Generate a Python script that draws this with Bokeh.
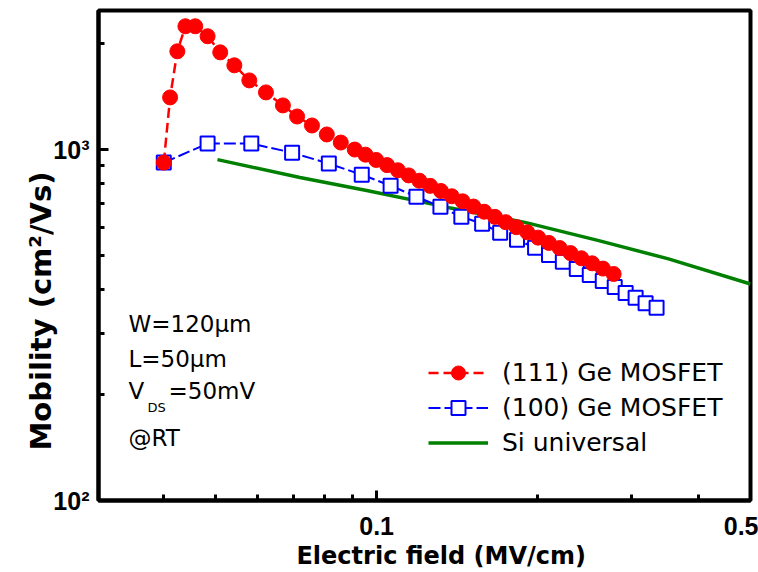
from bokeh.plotting import figure
from bokeh.models import FixedTicker, Label, Legend, LegendItem, Range1d
from bokeh.embed import file_html
from bokeh.resources import INLINE

# ---------------- data ----------------
ge111_field = [0.0400, 0.0411, 0.0424, 0.0439, 0.0458, 0.0483, 0.0510, 0.0542, 0.0578, 0.0621,
               0.0668, 0.0710, 0.0757, 0.0807, 0.0857, 0.0910, 0.0953, 0.0998, 0.1046, 0.1096,
               0.1148, 0.1202, 0.1259, 0.1319, 0.1382, 0.1448, 0.1517, 0.1589, 0.1664, 0.1743,
               0.1826, 0.1913, 0.2004, 0.2099, 0.2199, 0.2304, 0.2414, 0.2529, 0.2649, 0.2774]
ge111_mob = [918, 1408, 1905, 2245, 2245, 2103, 1892, 1738, 1574, 1455,
             1336, 1242, 1171, 1104, 1047, 1000, 967, 934, 903, 873,
             844, 815, 788, 762, 736, 712, 688, 665, 643, 621,
             601, 581, 561, 542, 524, 507, 490, 474, 458, 442]

ge100_field = [0.0400, 0.0483, 0.0583, 0.0695, 0.0814, 0.0938, 0.1062, 0.1187, 0.1316, 0.1440,
               0.1575, 0.1702, 0.1830, 0.1978, 0.2100, 0.2229, 0.2367, 0.2503, 0.2647, 0.2787,
               0.2921, 0.3049, 0.3183, 0.3337]
ge100_mob = [918, 1040, 1040, 980, 912, 848, 789, 734, 687, 643,
             615, 579, 553, 525, 501, 479, 457, 439, 422, 406,
             390, 378, 365, 354]

si_field = [0.0504, 0.0719, 0.0958, 0.1367, 0.1902, 0.2602, 0.3513, 0.5]
si_mob = [936, 832, 764, 683, 619, 550, 488, 414]

series_names = ["(111) Ge MOSFET", "(100) Ge MOSFET", "Si universal"]

NB = "\u00a0"
x_major = [0.1, 0.5]
x_minor = [0.04, 0.05, 0.06, 0.07, 0.08, 0.09, 0.2, 0.3, 0.4]
x_tick_labels = {0.1: "0.1", 0.5: "0.5"}
y_major = [100, 1000]
y_minor = [200, 300, 400, 500, 600, 700, 800, 900, 2000]
y_tick_labels = {100: "10²", 1000: "10³"}

x_lo, x_hi = 0.0302, 0.5
y_lo, y_hi = 100, 2490

x_title = NB * 4 + "Electric field (MV/cm)"
y_title = "Mobility (cm²/Vs)" + NB * 11

# ---------------- figure ----------------
p = figure(width=758, height=572, x_axis_type="log", y_axis_type="log",
           x_range=Range1d(x_lo, x_hi), y_range=Range1d(y_lo, y_hi),
           output_backend="svg", toolbar_location=None,
           min_border_left=98, min_border_right=8, min_border_top=10, min_border_bottom=72)
p.xgrid.visible = False
p.ygrid.visible = False
p.background_fill_color = "white"
p.border_fill_color = "white"
p.outline_line_color = "black"
p.outline_line_width = 4
p.outline_line_alpha = 1

p.xaxis.ticker = FixedTicker(ticks=x_major, minor_ticks=x_minor)
p.xaxis.major_label_overrides = x_tick_labels
p.yaxis.ticker = FixedTicker(ticks=y_major, minor_ticks=y_minor)
p.yaxis.major_label_overrides = y_tick_labels
for ax in (p.xaxis[0], p.yaxis[0]):
    ax.axis_line_width = 4
    ax.axis_line_color = "black"
    ax.major_tick_in = 10
    ax.major_tick_out = 0
    ax.minor_tick_in = 6
    ax.minor_tick_out = 0
    ax.major_tick_line_width = 3
    ax.minor_tick_line_width = 3
    ax.major_tick_line_color = "black"
    ax.minor_tick_line_color = "black"
    ax.major_label_text_font = "Liberation Sans"
    ax.major_label_text_font_style = "bold"
    ax.major_label_text_font_size = "25px"
    ax.major_label_text_color = "black"
    ax.axis_label_text_font = "DejaVu Sans"
    ax.axis_label_text_font_style = "bold"
    ax.axis_label_text_color = "black"
p.xaxis.major_label_standoff = 16
p.yaxis.major_label_standoff = 9
p.xaxis.axis_label = x_title
p.xaxis.axis_label_text_font_size = "24px"
p.xaxis.axis_label_standoff = 4
p.yaxis.axis_label = y_title
p.yaxis.axis_label_text_font_size = "29px"
p.yaxis.axis_label_standoff = -8

# ---------------- glyphs ----------------
r_si = p.line(si_field, si_mob, line_color="#008000", line_width=3.5)

r100l = p.line(ge100_field, ge100_mob, line_color="#0000ff", line_width=2, line_dash="12 4")
r100s = p.scatter(ge100_field, ge100_mob, marker="square", size=14,
                  line_color="#0000ff", fill_color="white", line_width=2)

r111l = p.line(ge111_field, ge111_mob, line_color="#ff0000", line_width=2.5, line_dash="10 5")
r111s = p.scatter(ge111_field, ge111_mob, marker="circle", size=15,
                  line_color="#ff0000", fill_color="#ff0000")

legend = Legend(items=[LegendItem(label=series_names[0], renderers=[r111l, r111s]),
                       LegendItem(label=series_names[1], renderers=[r100l, r100s]),
                       LegendItem(label=series_names[2], renderers=[r_si])],
                location=(330, 40), orientation="vertical", padding=0, margin=0, spacing=0,
                glyph_width=60, glyph_height=35, label_height=35, label_standoff=14,
                label_text_font="DejaVu Sans", label_text_font_size="25px",
                label_text_color="black",
                border_line_alpha=0, background_fill_alpha=0)
p.add_layout(legend)

# ---------------- annotation texts (inside the frame) ----------------
def txt(x, y, t, size="23px"):
    p.add_layout(Label(x=x, y=y, x_units="screen", y_units="screen", text=t,
                       text_font="DejaVu Sans", text_font_size=size,
                       text_align="left", text_baseline="middle", text_color="black"))

txt(30, 177, "W=120μm")
txt(30, 142, "L=50μm")
txt(30, 110, "V")
txt(49, 93, "DS", size="13px")
txt(70, 110, "=50mV")
txt(30, 63, "@RT")

open("out.html", "w").write(file_html(p, INLINE))
